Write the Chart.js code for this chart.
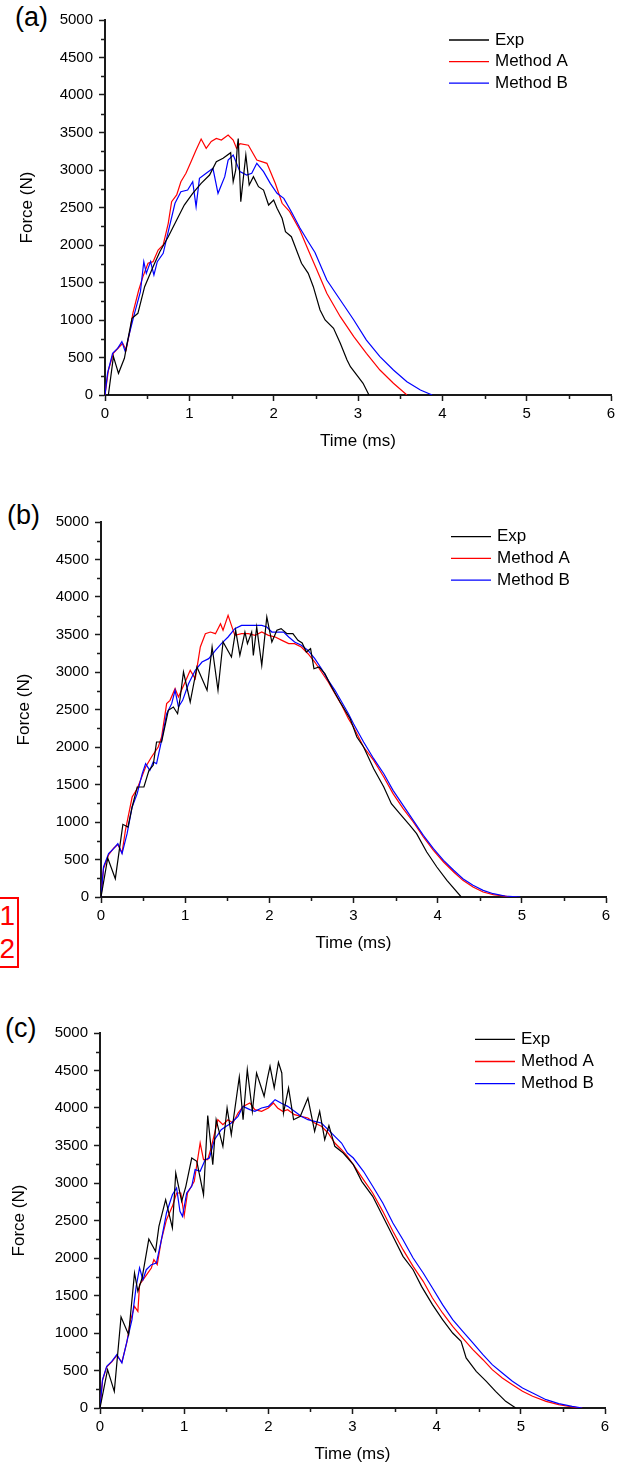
<!DOCTYPE html>
<html>
<head>
<meta charset="utf-8">
<script src="https://cdn.jsdelivr.net/npm/chart.js@4.4.1/dist/chart.umd.min.js"></script>
<style>
  body { margin: 0; background: #fff; width: 628px; height: 1468px; position: relative; overflow: hidden; }
  canvas { position: absolute; left: 0; }
  .panel { position: absolute; left: 15px; font: 27px 'Liberation Sans', Arial, sans-serif; line-height: 27px; color: #000; }
  .mark { position: absolute; left: -14px; top: 897px; width: 27px; height: 67px; border: 2px solid #f00; color: #f00;
          font: 28px 'Liberation Sans', Arial, sans-serif; line-height: 33px; text-align: right; padding-right: 2px; box-sizing: content-box; }
</style>
</head>
<body>
<div class="panel" style="top:4px;">(a)</div>
<div class="panel" style="top:502px; left:7px;">(b)</div>
<div class="panel" style="top:1015px; left:5px;">(c)</div>
<div class="mark">1<br>2</div>

<canvas id="chartA" width="628" height="455" style="top:0px"></canvas>
<canvas id="chartB" width="628" height="455" style="top:502px"></canvas>
<canvas id="chartC" width="628" height="455" style="top:1013px"></canvas>

<script>
// series as [time (ms), force (N)] pairs
const seriesLabels = ['Exp', 'Method A', 'Method B'];
const seriesColors = ['#000000', '#ff0000', '#0000ff'];
const xTicks = [0, 1, 2, 3, 4, 5, 6];
const yTicks = [0, 500, 1000, 1500, 2000, 2500, 3000, 3500, 4000, 4500, 5000];

// (a)
const expA = [[0.04,0],[0.10,511],[0.16,289],[0.23,489],[0.27,733],[0.32,1022],[0.39,1089],[0.47,1444],[0.57,1711],[0.65,1911],
  [0.75,2111],[0.85,2333],[0.94,2533],[1.04,2689],[1.14,2822],[1.24,2933],[1.32,3111],[1.40,3156],[1.49,3231],[1.52,2844],
  [1.55,3000],[1.57,3333],[1.58,3420],[1.61,2578],[1.67,3200],[1.71,2800],[1.76,2911],[1.82,2778],[1.88,2733],[1.94,2533],
  [2.00,2600],[2.04,2489],[2.10,2356],[2.14,2178],[2.21,2111],[2.27,1933],[2.33,1756],[2.41,1622],[2.47,1444],[2.55,1133],
  [2.61,1000],[2.71,889],[2.79,689],[2.87,467],[2.91,378],[3.00,244],[3.06,156],[3.13,0]];
const methodAA = [[0,0],[0.04,330],[0.10,560],[0.16,630],[0.21,690],[0.25,600],[0.30,880],[0.33,1089],[0.40,1400],[0.45,1578],
  [0.51,1756],[0.57,1778],[0.63,1933],[0.69,2000],[0.75,2289],[0.79,2578],[0.85,2667],[0.90,2844],[0.96,2956],[1.02,3111],
  [1.08,3267],[1.14,3413],[1.20,3289],[1.26,3380],[1.32,3420],[1.38,3400],[1.46,3467],[1.52,3400],[1.56,3289],[1.60,3350],
  [1.70,3330],[1.80,3133],[1.92,3089],[2.02,2820],[2.10,2556],[2.19,2444],[2.31,2200],[2.41,1933],[2.50,1700],[2.63,1356],
  [2.79,1044],[2.95,778],[3.10,556],[3.26,333],[3.42,156],[3.58,0]];
const methodBA = [[0,0],[0.03,289],[0.09,556],[0.15,622],[0.20,711],[0.24,578],[0.29,822],[0.35,1089],[0.42,1378],[0.46,1778],
  [0.49,1622],[0.54,1778],[0.58,1600],[0.62,1778],[0.69,1889],[0.75,2178],[0.83,2556],[0.90,2711],[0.98,2733],[1.04,2844],
  [1.08,2511],[1.12,2889],[1.20,2956],[1.28,3022],[1.34,2689],[1.42,2911],[1.46,3133],[1.52,3200],[1.60,2978],[1.68,2933],
  [1.74,2956],[1.80,3089],[1.88,2978],[1.96,2822],[2.04,2689],[2.12,2622],[2.21,2444],[2.31,2230],[2.41,2044],[2.49,1900],
  [2.63,1533],[2.79,1267],[2.95,1000],[3.10,733],[3.26,511],[3.42,333],[3.58,178],[3.74,67],[3.88,0]];

// (b)
const expB = [[0,0],[0.08,520],[0.17,244],[0.26,969],[0.32,933],[0.37,1200],[0.43,1467],[0.51,1467],[0.57,1689],[0.62,1756],
  [0.66,2067],[0.72,2067],[0.80,2489],[0.86,2533],[0.91,2444],[0.94,2650],[0.98,3000],[1.06,2600],[1.14,3067],[1.26,2756],
  [1.32,3333],[1.39,2756],[1.45,3400],[1.55,3200],[1.60,3556],[1.65,3222],[1.71,3533],[1.74,3378],[1.79,3533],[1.81,3222],
  [1.85,3600],[1.91,3089],[1.97,3733],[2.03,3400],[2.09,3556],[2.14,3578],[2.21,3511],[2.28,3511],[2.34,3422],[2.39,3387],
  [2.44,3267],[2.49,3311],[2.53,3044],[2.59,3067],[2.66,2978],[2.74,2800],[2.84,2600],[2.96,2378],[3.04,2133],[3.12,2000],
  [3.24,1711],[3.36,1467],[3.45,1244],[3.55,1111],[3.67,956],[3.75,844],[3.87,600],[3.99,400],[4.11,222],[4.28,0]];
const methodAB = [[0,0],[0.03,380],[0.09,560],[0.15,650],[0.20,700],[0.25,590],[0.29,889],[0.37,1333],[0.43,1444],[0.53,1733],
  [0.60,1867],[0.68,2000],[0.72,2133],[0.78,2578],[0.82,2622],[0.88,2778],[0.92,2667],[1.00,2867],[1.06,3022],[1.12,2911],
  [1.18,3333],[1.24,3511],[1.30,3533],[1.36,3511],[1.42,3644],[1.45,3556],[1.51,3756],[1.55,3622],[1.59,3489],[1.67,3511],
  [1.75,3511],[1.83,3489],[1.91,3533],[1.99,3489],[2.07,3467],[2.15,3422],[2.23,3378],[2.30,3378],[2.38,3333],[2.46,3244],
  [2.54,3133],[2.62,3000],[2.70,2867],[2.78,2711],[2.86,2556],[2.94,2378],[3.00,2267],[3.12,2000],[3.24,1822],[3.36,1600],
  [3.47,1378],[3.59,1178],[3.71,1000],[3.83,800],[3.95,622],[4.07,467],[4.19,333],[4.30,222],[4.42,133],[4.54,67],
  [4.66,31],[4.82,9],[4.94,0]];
const methodBB = [[0,0],[0.03,400],[0.09,578],[0.15,644],[0.20,711],[0.25,578],[0.31,844],[0.37,1200],[0.43,1378],[0.49,1644],
  [0.53,1778],[0.58,1689],[0.62,1800],[0.66,1778],[0.72,2089],[0.78,2444],[0.84,2578],[0.88,2756],[0.92,2533],[0.97,2622],
  [1.04,2844],[1.12,3022],[1.20,3133],[1.28,3178],[1.36,3289],[1.43,3378],[1.51,3467],[1.59,3578],[1.67,3622],[1.75,3622],
  [1.83,3622],[1.91,3622],[1.97,3600],[2.03,3533],[2.11,3533],[2.17,3533],[2.23,3467],[2.30,3400],[2.38,3356],[2.46,3289],
  [2.54,3178],[2.62,3044],[2.70,2889],[2.78,2756],[2.86,2600],[2.94,2444],[3.00,2311],[3.12,2067],[3.24,1844],[3.36,1644],
  [3.47,1422],[3.59,1222],[3.71,1022],[3.83,822],[3.95,644],[4.07,489],[4.19,356],[4.30,244],[4.42,156],[4.54,89],
  [4.66,44],[4.80,13],[4.98,0]];

// (c)
const expC = [[0,0],[0.09,511],[0.17,222],[0.25,1213],[0.34,978],[0.41,1800],[0.45,1556],[0.50,1733],[0.58,2253],[0.66,2089],
  [0.70,2422],[0.78,2778],[0.86,2400],[0.90,3133],[0.97,2756],[1.02,2956],[1.09,3333],[1.15,3289],[1.23,2844],[1.28,3898],
  [1.34,3244],[1.38,3844],[1.46,3489],[1.51,4000],[1.56,3644],[1.655,4413],[1.70,3844],[1.75,4511],[1.81,3956],[1.86,4467],
  [1.95,4156],[1.99,4400],[2.02,4556],[2.07,4267],[2.12,4608],[2.16,4467],[2.18,3933],[2.24,4267],[2.30,3844],[2.38,3889],
  [2.47,4133],[2.55,3689],[2.61,3956],[2.67,3578],[2.72,3764],[2.79,3489],[2.89,3400],[3.01,3244],[3.11,3022],[3.24,2822],
  [3.36,2556],[3.48,2289],[3.60,2022],[3.72,1844],[3.82,1622],[3.95,1378],[4.07,1178],[4.19,1000],[4.29,889],[4.35,667],
  [4.47,489],[4.59,356],[4.70,222],[4.82,89],[4.94,0]];
const methodAC = [[0,0],[0.03,370],[0.08,550],[0.14,615],[0.20,700],[0.26,610],[0.32,880],[0.36,1156],[0.41,1356],[0.45,1289],
  [0.47,1644],[0.54,1756],[0.61,1867],[0.64,1978],[0.68,1911],[0.73,2244],[0.79,2511],[0.86,2689],[0.91,2867],[0.96,2867],
  [1.00,2564],[1.04,2867],[1.12,3022],[1.19,3533],[1.23,3311],[1.28,3311],[1.32,3467],[1.40,3844],[1.46,3778],[1.52,3844],
  [1.58,3800],[1.64,3933],[1.70,4022],[1.78,4067],[1.84,3978],[1.92,3956],[2.00,4000],[2.06,4067],[2.11,4000],[2.17,3956],
  [2.23,3978],[2.31,3911],[2.39,3889],[2.47,3867],[2.55,3800],[2.63,3756],[2.71,3667],[2.79,3533],[2.87,3444],[2.94,3356],
  [3.01,3244],[3.13,3044],[3.24,2867],[3.36,2622],[3.48,2356],[3.60,2111],[3.72,1889],[3.84,1689],[3.95,1467],[4.07,1267],
  [4.19,1089],[4.31,933],[4.43,778],[4.55,644],[4.66,511],[4.78,400],[4.90,311],[5.02,222],[5.14,156],[5.30,89],
  [5.45,44],[5.61,13],[5.73,0]];
const methodBC = [[0,0],[0.03,378],[0.08,556],[0.14,622],[0.20,711],[0.26,600],[0.32,889],[0.38,1178],[0.43,1622],[0.47,1867],
  [0.51,1711],[0.55,1844],[0.61,1911],[0.67,1933],[0.73,2244],[0.79,2600],[0.86,2844],[0.91,2933],[0.95,2622],[0.98,2556],
  [1.03,2867],[1.09,2956],[1.13,3178],[1.19,3156],[1.25,3311],[1.30,3333],[1.36,3578],[1.44,3711],[1.50,3756],[1.56,3800],
  [1.64,3889],[1.70,4022],[1.78,3978],[1.84,3956],[1.92,4000],[2.00,4022],[2.08,4111],[2.15,4067],[2.23,4022],[2.31,3956],
  [2.39,3889],[2.47,3844],[2.55,3822],[2.63,3800],[2.71,3711],[2.79,3622],[2.87,3533],[2.94,3400],[3.01,3333],[3.13,3156],
  [3.24,2956],[3.36,2733],[3.48,2467],[3.60,2244],[3.72,2000],[3.84,1800],[3.95,1600],[4.07,1378],[4.19,1178],[4.31,1022],
  [4.43,867],[4.55,711],[4.66,578],[4.78,467],[4.90,356],[5.02,267],[5.14,200],[5.30,111],[5.45,58],[5.61,22],[5.73,0]];

const axisColor = '#1a1a1a';
const fontFamily = "'Liberation Sans', Arial, Helvetica, sans-serif";

Chart.defaults.font.family = fontFamily;
Chart.defaults.color = '#000';

// short minor ticks halfway between the labelled ones
const minorTicks = {
  id: 'minorTicks',
  afterDraw(chart) {
    let ctx = chart.ctx;
    let area = chart.chartArea;
    let xs = chart.scales.x;
    let ys = chart.scales.y;
    ctx.save();
    ctx.strokeStyle = axisColor;
    ctx.lineWidth = 1.5;
    ctx.beginPath();
    for (let i = 0; i < xTicks.length - 1; i++) {
      let px = Math.round(xs.getPixelForValue((xTicks[i] + xTicks[i + 1]) / 2)) + 0.5;
      ctx.moveTo(px, area.bottom);
      ctx.lineTo(px, area.bottom + 4);
    }
    for (let i = 0; i < yTicks.length - 1; i++) {
      let py = Math.round(ys.getPixelForValue((yTicks[i] + yTicks[i + 1]) / 2)) + 0.5;
      ctx.moveTo(area.left, py);
      ctx.lineTo(area.left - 4, py);
    }
    ctx.stroke();
    ctx.restore();
  }
};

// legend in the upper right of the plot, like the original
const cornerLegend = {
  id: 'cornerLegend',
  afterDraw(chart, args, opts) {
    let ctx = chart.ctx;
    ctx.save();
    ctx.font = '17px ' + fontFamily;
    ctx.textBaseline = 'middle';
    ctx.fillStyle = '#000';
    chart.data.datasets.forEach((ds, i) => {
      let y = opts.y + i * opts.gap;
      ctx.strokeStyle = ds.borderColor;
      ctx.lineWidth = 1.3;
      ctx.beginPath();
      ctx.moveTo(opts.x, y);
      ctx.lineTo(opts.x + 40, y);
      ctx.stroke();
      ctx.fillText(ds.label, opts.x + 46, y);
    });
    ctx.restore();
  }
};

function makeChart(canvasId, series, layout) {
  let datasets = series.map((points, i) => ({
    label: seriesLabels[i],
    data: points.map(p => ({x: p[0], y: p[1]})),
    borderColor: seriesColors[i],
    backgroundColor: seriesColors[i],
    borderWidth: 1.2,
    pointRadius: 0,
    showLine: true,
    tension: 0,
    order: [0, 2, 1][i]
  }));

  let ctx = document.getElementById(canvasId).getContext('2d');
  return new Chart(ctx, {
    type: 'scatter',
    data: { datasets: datasets },
    plugins: [minorTicks, cornerLegend],
    options: {
      responsive: false,
      animation: false,
      events: [],
      layout: { padding: { left: 0, right: layout.right, top: 20, bottom: 0 } },
      plugins: {
        legend: { display: false },
        tooltip: { enabled: false },
        cornerLegend: layout.legend
      },
      scales: {
        x: {
          type: 'linear',
          min: 0,
          max: 6,
          afterFit: scale => { scale.height = 60; },
          afterBuildTicks: scale => { scale.ticks = xTicks.map(v => ({value: v})); },
          ticks: { font: { size: 15 }, color: '#000', padding: 4, maxRotation: 0, callback: v => String(v) },
          grid: { drawOnChartArea: false, drawTicks: true, tickLength: 6, tickWidth: 1.5, tickColor: axisColor },
          border: { display: true, color: axisColor, width: 2 },
          title: { display: true, text: 'Time (ms)', font: { size: 17 }, color: '#000', padding: { top: 0, bottom: 3 } }
        },
        y: {
          type: 'linear',
          min: 0,
          max: 5000,
          afterFit: scale => { scale.width = layout.left; },
          afterBuildTicks: scale => { scale.ticks = yTicks.map(v => ({value: v})); },
          ticks: { font: { size: 15 }, color: '#000', padding: 6, callback: v => String(v) },
          grid: { drawOnChartArea: false, drawTicks: true, tickLength: 6, tickWidth: 1.5, tickColor: axisColor },
          border: { display: true, color: axisColor, width: 2 },
          title: { display: true, text: 'Force (N)', font: { size: 17 }, color: '#000', padding: { top: layout.titleX, bottom: 0 } }
        }
      }
    }
  });
}

makeChart('chartA', [expA, methodAA, methodBA], {
  left: 105, right: 17, titleX: 17,
  legend: { x: 449, y: 40, gap: 21.6 }
});
makeChart('chartB', [expB, methodAB, methodBB], {
  left: 101, right: 22, titleX: 14,
  legend: { x: 451, y: 34.7, gap: 21.7 }
});
makeChart('chartC', [expC, methodAC, methodBC], {
  left: 100, right: 23, titleX: 9,
  legend: { x: 475, y: 26.3, gap: 22.2 }
});
</script>
</body>
</html>
